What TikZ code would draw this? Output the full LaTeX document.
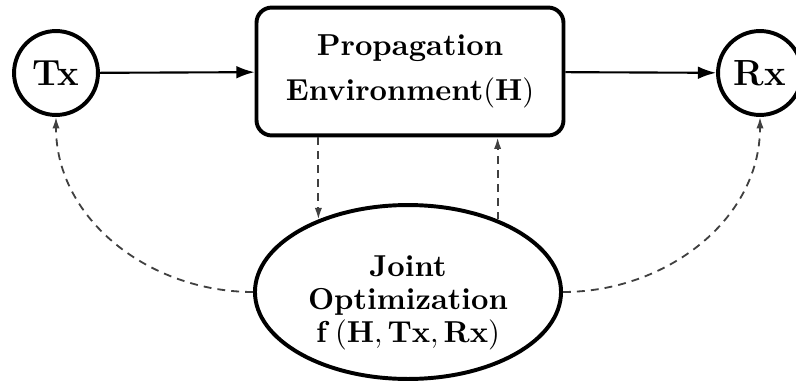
\documentclass[tikz,border=0pt]{standalone}
\usetikzlibrary{arrows.meta,shapes.geometric}
\begin{document}
\begin{tikzpicture}[x=0.33pt,y=0.33pt,
 circnode/.style={circle,draw,line width=1.3pt,minimum size=27.7pt,inner sep=0pt,font=\large\bfseries},
 envbox/.style={rectangle,draw,line width=1.3pt,rounded corners=5pt,minimum width=101.3pt,minimum height=42.2pt,inner sep=0pt,align=center,font=\bfseries},
 optell/.style={ellipse,draw,line width=1.3pt,minimum width=101pt,minimum height=57.4pt,inner sep=0pt},
 opttext/.style={align=center,font=\bfseries,inner sep=0pt},
 flow/.style={line width=0.7pt,-{Latex[length=6pt,width=4.2pt]}},
 fb/.style={line width=0.6pt,black!75,dash pattern=on 2.6pt off 2pt,-{Latex[length=3.8pt,width=2.4pt]}}]
\useasboundingbox (0,0) rectangle (796,383);
\node[circnode] (tx) at (56,310) {Tx};
\node[circnode] (rx) at (760,310) {Rx};
\node[envbox] (env) at (410,311.5) {Propagation\\[2.6pt]Environment$(\mathbf{H})$};
\node[optell] (opt) at (408,91) {};
\node[opttext] (optlabel) at (408,80) {Joint\\[-1.2pt]Optimization\\[-1.2pt]$\mathbf{f}\left(\mathbf{H},\mathbf{Tx},\mathbf{Rx}\right)$};
\draw[flow] (tx) -- (env);
\draw[flow] (env) -- (rx);
\draw[fb] (env.south -| opt.141) -- (opt.141);
\draw[fb] (opt.39) -- (env.south -| opt.39);
\draw[fb] (opt.west) to[out=180,in=-90] (tx.south);
\draw[fb] (opt.east) to[out=0,in=-90] (rx.south);
\end{tikzpicture}
\end{document}
